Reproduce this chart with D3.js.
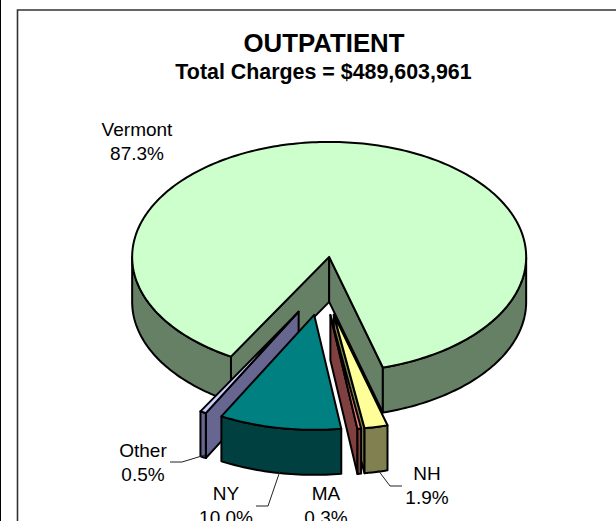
<!DOCTYPE html>
<html><head><meta charset="utf-8">
<script src="https://cdnjs.cloudflare.com/ajax/libs/d3/7.8.5/d3.min.js"></script>
<style>html,body{margin:0;padding:0;background:#fff}svg{display:block}text{font-family:"Liberation Sans",Arial,sans-serif;fill:#000}</style>
</head><body><div id="c"></div>
<script>
const categories = ["Vermont","NH","MA","NY","Other"];
const values = [87.3,1.9,0.3,10.0,0.5];
const labels = ["87.3%","1.9%","0.3%","10.0%","0.5%"];
const topColors = ["#CCFFCC","#FFFF99","#FF8080","#008080","#CCCCFF"];
const wallColors = ["#668066","#808050","#804040","#004040","#666690"];
const labelPos = [[137,136],[427,480],[326,500],[226,500],[143,457]];
const leaders = [null,[[378,470],[390,486],[402,486]],null,[[280,471],[268,506],[256,506]],[[205,455],[182,462],[170,462]]];
const drawOrder = ["Vermont","Other","NY","NH","MA"];

const W=616,H=521,cx=323,cy=286,rx=197,ry=115,depth=45,explode=0.255;
const svg=d3.select("#c").append("svg").attr("width",W).attr("height",H);
svg.append("rect").attr("x",0).attr("y",0).attr("width",1).attr("height",H).attr("fill","#000");
svg.append("path").attr("d",`M17.5,${H}V10H${W}`).attr("fill","none").attr("stroke","#333").attr("stroke-width",1.6);

const pie=d3.pie().sort(null).value(d=>d).startAngle(209.9*Math.PI/180).endAngle((209.9+360)*Math.PI/180);
const arcs=pie(values);
const xS=d3.scaleLinear().domain([-1,1]).range([-rx,rx]);
const yS=d3.scaleLinear().domain([-1,1]).range([ry,-ry]); // +1 = up
const pt=(c,a,r=1)=>[c[0]+xS(Math.sin(a)*r),c[1]+yS(Math.cos(a)*r)];
const line=d3.line();
const sample=(a,b)=>{const n=Math.max(2,Math.ceil(Math.abs(b-a)/0.02));return d3.range(n+1).map(i=>a+(b-a)*i/n)};
const stroke={stroke:"#000","stroke-width":2,"stroke-linejoin":"round"};
function shape(d,fill){const p=svg.append("path").attr("d",d).attr("fill",fill);for(const k in stroke)p.attr(k,stroke[k]);}
const down=p=>[p[0],p[1]+depth];
const TAU=Math.PI*2;
function drawSlice(i){
  const s=arcs[i],a0=s.startAngle,a1=s.endAngle,m=(a0+a1)/2;
  const c=[cx+xS(Math.sin(m))*explode,cy+yS(Math.cos(m))*explode];
  const faces=[];
  if(Math.sin(a0)<0) faces.push(a0);
  if(Math.sin(a1)>0) faces.push(a1);
  faces.forEach(a=>{
    const e=pt(c,a);
    shape(line([c,e,down(e),down(c)])+"Z",wallColors[i]);
  });
  for(let k=-1;k<=2;k++){
    const lo=Math.max(a0,Math.PI/2+k*TAU),hi=Math.min(a1,3*Math.PI/2+k*TAU);
    if(hi>lo){
      const rim=sample(lo,hi).map(a=>pt(c,a));
      shape(line(rim.concat(rim.slice().reverse().map(down)))+"Z",wallColors[i]);
    }
  }
  const top=[c].concat(sample(a0,a1).map(a=>pt(c,a)));
  shape(line(top)+"Z",topColors[i]);
}
drawOrder.forEach(n=>drawSlice(categories.indexOf(n)));

leaders.forEach(l=>{if(l)svg.append("path").attr("d",line(l)).attr("fill","none").attr("stroke","#222").attr("stroke-width",1);});
categories.forEach((n,i)=>{
  const [x,y]=labelPos[i];
  svg.append("text").attr("x",x).attr("y",y).attr("text-anchor","middle").attr("font-size",19).text(n);
  svg.append("text").attr("x",x).attr("y",y+23.5).attr("text-anchor","middle").attr("font-size",19).text(labels[i]);
});
svg.append("text").attr("x",324).attr("y",51.5).attr("text-anchor","middle").attr("font-size",25.8).attr("font-weight","bold").text("OUTPATIENT");
svg.append("text").attr("x",323.5).attr("y",79).attr("text-anchor","middle").attr("font-size",21.4).attr("font-weight","bold").text("Total Charges = $489,603,961");
</script></body></html>
